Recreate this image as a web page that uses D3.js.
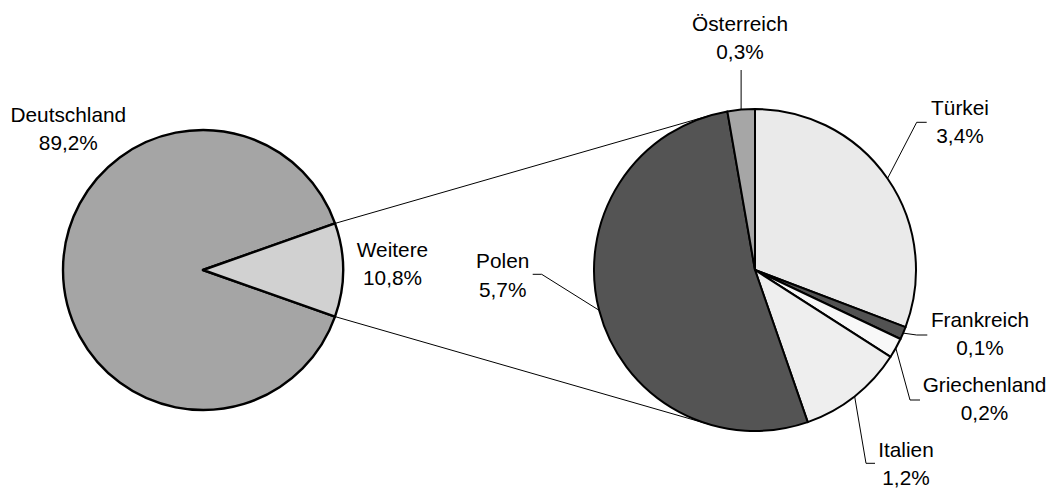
<!DOCTYPE html>
<html>
<head>
<meta charset="utf-8">
<script src="https://cdn.jsdelivr.net/npm/d3@7"></script>
<style>
  html, body { margin: 0; padding: 0; background: #fff; }
  svg text { font-family: "Liberation Sans", Arial, sans-serif; font-size: 20.8px; fill: #000; }
</style>
</head>
<body>
<svg id="chart" width="1050" height="489"></svg>
<script>
// ---- data ----
const mainCategories = ["Deutschland", "Weitere"];
const mainValues = [89.2, 10.8];
const subCategories = ["Türkei", "Frankreich", "Griechenland", "Italien", "Polen", "Österreich"];
const subValues = [3.36, 0.14, 0.22, 1.16, 5.74, 0.30];

// ---- style / layout ----
const mainColors = ["#a5a5a5", "#d1d1d1"];
const subColors = ["#eaeaea", "#525252", "#f8f8f8", "#eeeeee", "#545454", "#a6a6a6"];
const L = { cx: 203, cy: 270, r: 140 };
const R = { cx: 755, cy: 270, r: 161 };
const lineGap = 28.3;
const fmt = v => d3.format(".1f")(v).replace(".", ",") + "%";

// label layout relative to pie centres: text centre x, first baseline y, leader elbow and end
const mainLabelPos = [
  { tx: -134.7, ty: -148.3 },
  { tx: 189.5, ty: -13.3 }
];
const subLabelPos = [
  { tx: 205,    ty: -155,  elbow: [161.7, -147.7], end: [171.7, -147.7] },
  { tx: 225,    ty: 56.7,  elbow: [161.7, 65],     end: [172.3, 65] },
  { tx: 229.5,  ty: 121.7, elbow: [155, 130],      end: [165, 130] },
  { tx: 151,    ty: 186.7, elbow: [111, 193.3],    end: [120, 193.3] },
  { tx: -252.3, ty: -1.7,  elbow: [-213.3, 4.3],   end: [-222.3, 4.3] },
  { tx: -15,    ty: -239.5, elbow: null,           end: null }
];

const svg = d3.select("#chart");

// ---- pies ----
const mainTotal = d3.sum(mainValues);
const wShare = mainValues[1] / mainTotal;
const a0 = Math.PI / 2 - 2 * Math.PI * (1 - wShare / 2);
const mainPie = d3.pie().sort(null).startAngle(a0).endAngle(a0 + 2 * Math.PI);
const mainArcs = mainPie(mainValues);
const subArcs = d3.pie().sort(null)(subValues);

const arcL = d3.arc().innerRadius(0).outerRadius(L.r);
const arcR = d3.arc().innerRadius(0).outerRadius(R.r);

function polar(c, r, a) { return [c.cx + r * Math.sin(a), c.cy - r * Math.cos(a)]; }

// ---- connector lines (tangent to second pie) ----
const wArc = mainArcs[1];
function tangent(P, upper) {
  const dx = P[0] - R.cx, dy = P[1] - R.cy;
  const d = Math.hypot(dx, dy);
  const phi = Math.atan2(dy, dx);
  const alpha = Math.acos(R.r / d);
  const cands = [phi + alpha, phi - alpha].map(t => [R.cx + R.r * Math.cos(t), R.cy + R.r * Math.sin(t)]);
  cands.sort((p, q) => p[1] - q[1]);
  return upper ? cands[0] : cands[1];
}
const pUp = polar(L, L.r, wArc.startAngle);
const pDn = polar(L, L.r, wArc.endAngle);
const conn = svg.append("g").attr("stroke", "#000").attr("stroke-width", 1);
[[pUp, tangent(pUp, true)], [pDn, tangent(pDn, false)]].forEach(s => {
  conn.append("line").attr("x1", s[0][0]).attr("y1", s[0][1]).attr("x2", s[1][0]).attr("y2", s[1][1]);
});

// ---- left pie ----
svg.append("g").attr("transform", `translate(${L.cx},${L.cy})`)
  .selectAll("path").data(mainArcs).join("path")
  .attr("d", arcL)
  .attr("fill", (d, i) => mainColors[i])
  .attr("stroke", "#000").attr("stroke-width", 2.4).attr("stroke-linejoin", "round");

// ---- right pie ----
svg.append("g").attr("transform", `translate(${R.cx},${R.cy})`)
  .selectAll("path").data(subArcs).join("path")
  .attr("d", arcR)
  .attr("fill", (d, i) => subColors[i])
  .attr("stroke", "#000").attr("stroke-width", 2).attr("stroke-linejoin", "round");

// ---- leaders ----
const lead = svg.append("g").attr("fill", "none").attr("stroke", "#000").attr("stroke-width", 1);
subArcs.forEach((d, i) => {
  const mid = (d.startAngle + d.endAngle) / 2;
  const s = polar(R, R.r, mid);
  const lp = subLabelPos[i];
  let pts;
  if (lp.elbow) {
    pts = [s, [R.cx + lp.elbow[0], R.cy + lp.elbow[1]], [R.cx + lp.end[0], R.cy + lp.end[1]]];
  } else {
    pts = [s, [s[0], R.cy - 200]];
  }
  lead.append("path").attr("d", d3.line()(pts));
});

// ---- labels ----
function addLabel(x, y, name, value) {
  const t = svg.append("text").attr("text-anchor", "middle");
  t.append("tspan").attr("x", x).attr("y", y).text(name);
  t.append("tspan").attr("x", x).attr("y", y + lineGap).text(fmt(value));
}
mainCategories.forEach((c, i) => addLabel(L.cx + mainLabelPos[i].tx, L.cy + mainLabelPos[i].ty, c, mainValues[i]));
subCategories.forEach((c, i) => addLabel(R.cx + subLabelPos[i].tx, R.cy + subLabelPos[i].ty, c, subValues[i]));
</script>
</body>
</html>
